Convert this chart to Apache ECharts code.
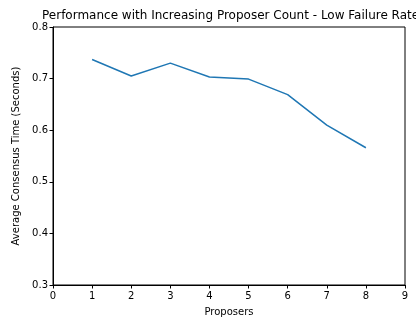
<!DOCTYPE html>
<html>
<head>
<meta charset="utf-8">
<script src="https://cdn.jsdelivr.net/npm/echarts@6/dist/echarts.min.js"></script>
<style>html,body{margin:0;padding:0;background:#fff}#c{width:416px;height:322px}</style>
</head>
<body>
<div id="c"></div>
<script>
const proposers = [1, 2, 3, 4, 5, 6, 7, 8];
const avgTime = [0.737, 0.705, 0.730, 0.703, 0.699, 0.669, 0.610, 0.566];
const titleText = 'Performance with Increasing Proposer Count - Low Failure Rate';
const xName = 'Proposers';
const yName = 'Average Consensus Time (Seconds)';

const chart = echarts.init(document.getElementById('c'), null, {renderer: 'canvas'});
const font = 'DejaVu Sans';
chart.setOption({
  animation: false,
  title: {
    text: titleText, left: 42, top: 10, padding: 0,
    textStyle: {fontFamily: font, fontSize: 12, fontWeight: 'normal', color: '#000'}
  },
  grid: {left: 53, right: 11, top: 27, bottom: 32, show: true, borderColor: '#000', borderWidth: 1, backgroundColor: 'transparent'},
  xAxis: {
    type: 'value', min: 0, max: 9, interval: 1,
    name: xName, nameLocation: 'middle', nameGap: 22,
    nameTextStyle: {fontFamily: font, fontSize: 10, color: '#000'},
    axisLine: {show: true, lineStyle: {color: '#000', width: 1}},
    axisTick: {show: true, length: 3.5, lineStyle: {color: '#000'}},
    axisLabel: {fontFamily: font, fontSize: 10, color: '#000', margin: 6},
    splitLine: {show: false}
  },
  yAxis: {
    type: 'value', min: 0.3, max: 0.8, interval: 0.1,
    name: yName, nameLocation: 'middle', nameGap: 23,
    nameTextStyle: {fontFamily: font, fontSize: 10, color: '#000'},
    axisLine: {show: true, lineStyle: {color: '#000', width: 1}},
    axisTick: {show: true, length: 3.5, lineStyle: {color: '#000'}},
    axisLabel: {fontFamily: font, fontSize: 10, color: '#000', margin: 5, formatter: v => v.toFixed(1)},
    splitLine: {show: false}
  },
  series: [{
    type: 'line',
    data: proposers.map((p, i) => [p, avgTime[i]]),
    showSymbol: false,
    lineStyle: {color: '#1f77b4', width: 1.5},
    itemStyle: {color: '#1f77b4'}
  }]
});
</script>
</body>
</html>
